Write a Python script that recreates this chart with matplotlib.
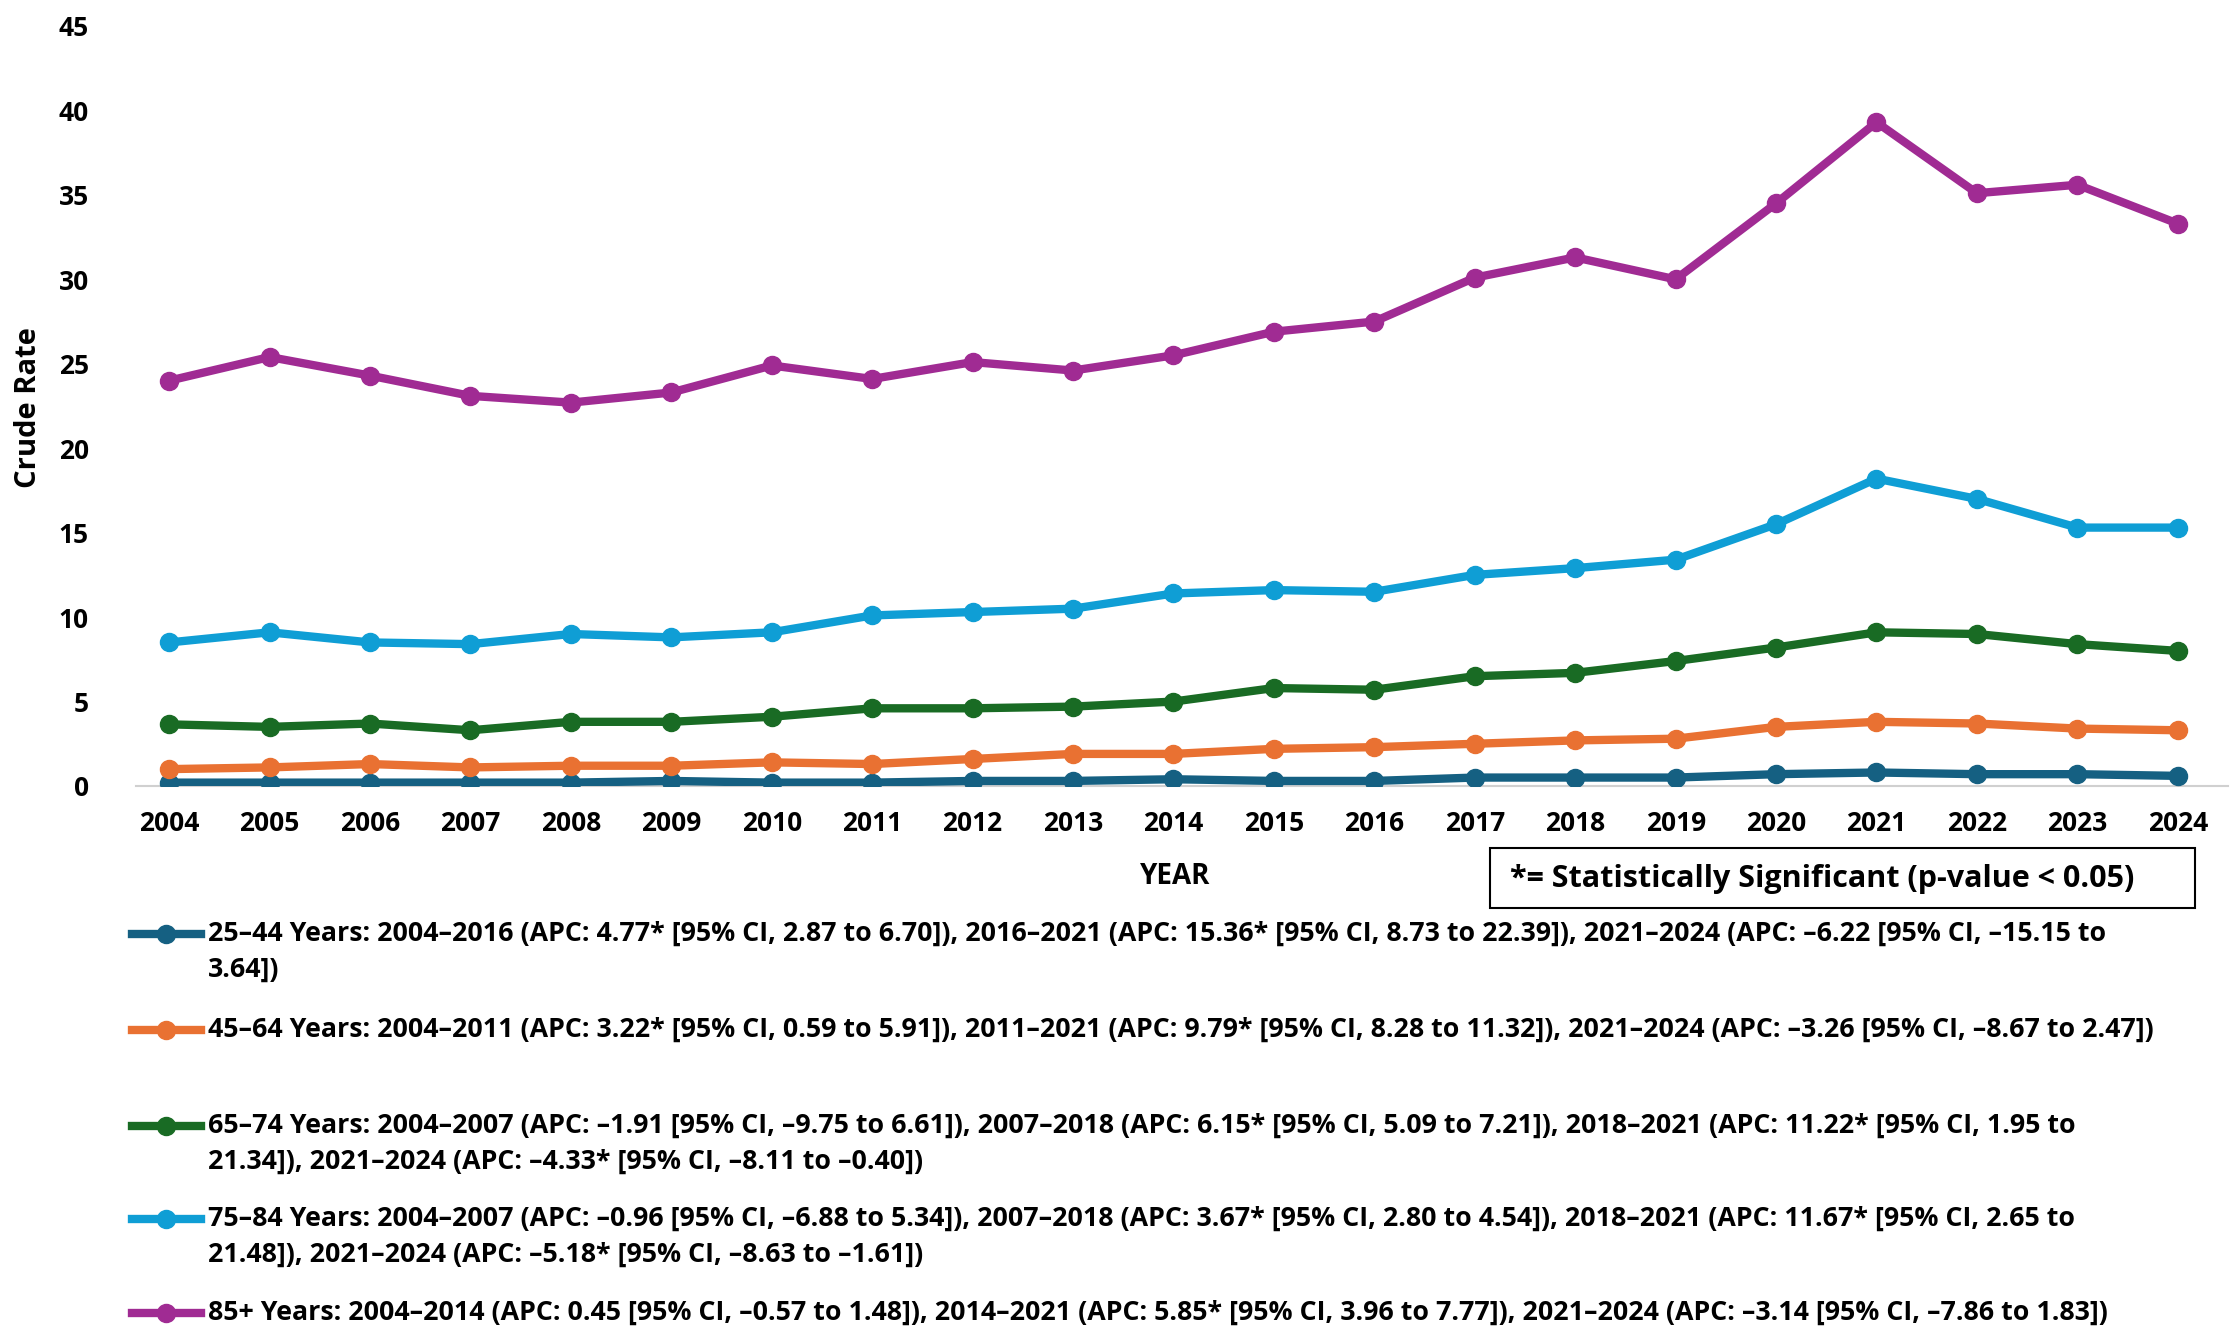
import matplotlib.pyplot as plt
from matplotlib.lines import Line2D
from matplotlib.patches import Rectangle

plt.rcParams['font.family'] = ['Open Sans', 'DejaVu Sans']
plt.rcParams['font.weight'] = 'bold'

# data
years = list(range(2004, 2025))
age_25_44 = [0.2, 0.2, 0.2, 0.2, 0.2, 0.3, 0.2, 0.2, 0.3, 0.3, 0.4,
             0.3, 0.3, 0.5, 0.5, 0.5, 0.7, 0.8, 0.7, 0.7, 0.6]
age_45_64 = [1.0, 1.1, 1.3, 1.1, 1.2, 1.2, 1.4, 1.3, 1.6, 1.9, 1.9,
             2.2, 2.3, 2.5, 2.7, 2.8, 3.5, 3.8, 3.7, 3.4, 3.3]
age_65_74 = [3.65, 3.5, 3.7, 3.3, 3.8, 3.8, 4.1, 4.6, 4.6, 4.7, 5.0,
             5.8, 5.7, 6.5, 6.7, 7.4, 8.2, 9.1, 9.0, 8.4, 8.0]
age_75_84 = [8.5, 9.1, 8.5, 8.4, 9.0, 8.8, 9.1, 10.1, 10.3, 10.5, 11.4,
             11.6, 11.5, 12.5, 12.9, 13.4, 15.5, 18.2, 17.0, 15.3, 15.3]
age_85 = [24.0, 25.4, 24.3, 23.1, 22.7, 23.3, 24.9, 24.1, 25.1, 24.6, 25.5,
          26.9, 27.5, 30.1, 31.3, 30.0, 34.5, 39.3, 35.1, 35.6, 33.3]

series = [age_25_44, age_45_64, age_65_74, age_75_84, age_85]
colors = ['#156082', '#E97132', '#196B24', '#0F9ED5', '#A02B93']
labels = [
    "25\u201344 Years: 2004\u20132016 (APC: 4.77* [95% CI, 2.87 to 6.70]), 2016\u20132021 (APC: 15.36* [95% CI, 8.73 to 22.39]), 2021\u20132024 (APC: \u20136.22 [95% CI, \u201315.15 to\n3.64])",
    "45\u201364 Years: 2004\u20132011 (APC: 3.22* [95% CI, 0.59 to 5.91]), 2011\u20132021 (APC: 9.79* [95% CI, 8.28 to 11.32]), 2021\u20132024 (APC: \u20133.26 [95% CI, \u20138.67 to 2.47])",
    "65\u201374 Years: 2004\u20132007 (APC: \u20131.91 [95% CI, \u20139.75 to 6.61]), 2007\u20132018 (APC: 6.15* [95% CI, 5.09 to 7.21]), 2018\u20132021 (APC: 11.22* [95% CI, 1.95 to\n21.34]), 2021\u20132024 (APC: \u20134.33* [95% CI, \u20138.11 to \u20130.40])",
    "75\u201384 Years: 2004\u20132007 (APC: \u20130.96 [95% CI, \u20136.88 to 5.34]), 2007\u20132018 (APC: 3.67* [95% CI, 2.80 to 4.54]), 2018\u20132021 (APC: 11.67* [95% CI, 2.65 to\n21.48]), 2021\u20132024 (APC: \u20135.18* [95% CI, \u20138.63 to \u20131.61])",
    "85+ Years: 2004\u20132014 (APC: 0.45 [95% CI, \u20130.57 to 1.48]), 2014\u20132021 (APC: 5.85* [95% CI, 3.96 to 7.77]), 2021\u20132024 (APC: \u20133.14 [95% CI, \u20137.86 to 1.83])",
]

W, H = 2236, 1341
fig = plt.figure(figsize=(W / 100, H / 100), dpi=100)
ax = fig.add_axes([136 / W, 1 - 786 / H, (2228 - 136) / W, (786 - 26) / H])

for vals, c in zip(series, colors):
    ax.plot(years, vals, color=c, lw=6, marker='o', ms=13, zorder=3)

ax.set_xlim(2003.67, 2024.5)
ax.set_ylim(0, 45)
ax.set_yticks(range(0, 46, 5))
ax.set_xticks(years)
for s in ['top', 'right', 'left']:
    ax.spines[s].set_visible(False)
ax.spines['bottom'].set_color('#d0d0d0')
ax.spines['bottom'].set_linewidth(1.5)
ax.tick_params(length=0, labelsize=19, pad=17)
ax.tick_params(axis='y', pad=34)
for t in ax.get_xticklabels() + ax.get_yticklabels():
    t.set_fontweight('bold')

fig.text(1175 / W, 1 - 877 / H, 'YEAR', ha='center', va='center',
         fontsize=20, fontweight='bold')
fig.text(29 / W, 1 - 408 / H, 'Crude Rate', ha='center', va='center',
         rotation=90, fontsize=21, fontweight='bold')

# significance note box
fig.add_artist(Rectangle((1490 / W, 1 - 908 / H), 705 / W, 60 / H,
                         transform=fig.transFigure, fill=False,
                         edgecolor='black', lw=1.5))
fig.text(1510 / W, 1 - 879 / H, '*= Statistically Significant (p-value < 0.05)',
         ha='left', va='center', fontsize=22, fontweight='bold')

# legend rows
row_y = [934, 1030, 1126, 1219, 1313]
for y, c, lab in zip(row_y, colors, labels):
    yf = 1 - y / H
    fig.add_artist(Line2D([132 / W, 201 / W], [yf, yf], transform=fig.transFigure,
                          color=c, lw=6))
    fig.add_artist(Line2D([166 / W], [yf], transform=fig.transFigure,
                          color=c, marker='o', ms=13))
    fig.text(208 / W, yf + 13 / H, lab, ha='left', va='top', fontsize=19.3,
             fontweight='bold', linespacing=1.5)

fig.savefig('out.png', dpi=100)
